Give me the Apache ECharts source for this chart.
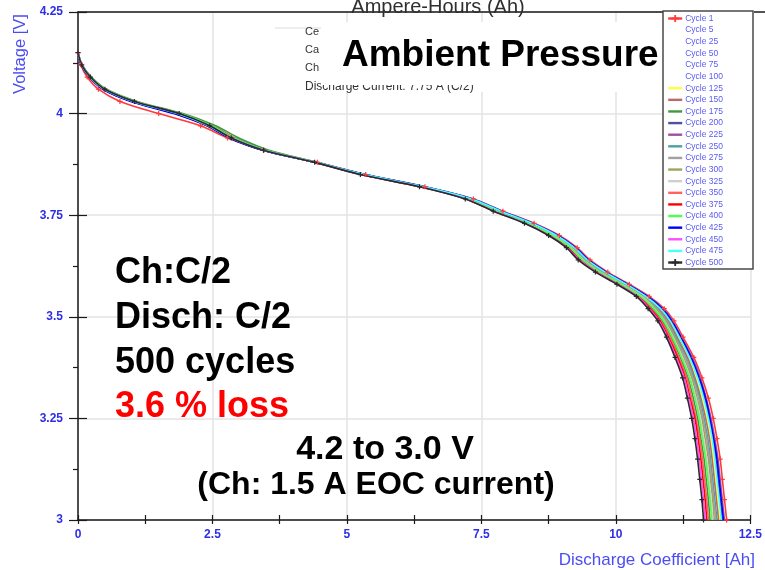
<!DOCTYPE html>
<html>
<head>
<meta charset="utf-8">
<script src="https://cdn.jsdelivr.net/npm/echarts@6/dist/echarts.min.js"></script>
<style>
  html, body { margin: 0; padding: 0; background: #ffffff; }
  #chart { width: 765px; height: 570px; }
</style>
</head>
<body>
<div id="chart"></div>
<script>
// Discharge curves, cell voltage [V] against discharged capacity [Ah].
// Every curve is sampled at the same voltage levels; each cycle list holds
// the capacity reached at those levels.
const voltage = [4.15, 4.12, 4.09, 4.06, 4.03, 4.00, 3.97, 3.94, 3.91, 3.88,
  3.85, 3.82, 3.79, 3.76, 3.73, 3.70, 3.67, 3.64, 3.61, 3.58, 3.55, 3.52, 3.49,
  3.45, 3.40, 3.35, 3.30, 3.25, 3.20, 3.15, 3.10, 3.05, 3.00];

const ahCycle1   = [0.00,0.05,0.17,0.38,0.78,1.50,2.28,2.78,3.45,4.45, 5.35,6.45,7.35,7.90,8.48,8.95,9.28,9.52,9.85,10.25,10.62,10.90,11.08, 11.25,11.45,11.60,11.72,11.81,11.88,11.94,11.98,12.02,12.06];
const ahCycle125 = [0.00,0.07,0.23,0.50,1.05,1.88,2.46,2.87,3.47,4.42, 5.32,6.42,7.31,7.85,8.43,8.89,9.22,9.45,9.78,10.18,10.55,10.81,10.99, 11.16,11.35,11.49,11.60,11.69,11.76,11.81,11.85,11.89,11.93];
const ahCycle150 = [0.00,0.07,0.24,0.51,1.07,1.90,2.50,2.92,3.50,4.43, 5.32,6.42,7.30,7.84,8.42,8.88,9.21,9.44,9.77,10.17,10.54,10.80,10.98, 11.14,11.33,11.47,11.58,11.67,11.74,11.79,11.83,11.87,11.91];
const ahCycle175 = [0.00,0.08,0.25,0.53,1.10,1.95,2.56,2.99,3.55,4.45, 5.28,6.38,7.24,7.80,8.40,8.90,9.24,9.44,9.73,10.10,10.45,10.68,10.86, 11.03,11.20,11.34,11.44,11.52,11.58,11.64,11.68,11.72,11.75];
const ahCycle200 = [0.00,0.07,0.22,0.48,1.02,1.84,2.42,2.83,3.44,4.41, 5.33,6.43,7.32,7.87,8.45,8.91,9.24,9.48,9.81,10.21,10.57,10.84,11.02, 11.19,11.38,11.53,11.65,11.73,11.80,11.86,11.90,11.94,11.98];
const ahCycle225 = [0.00,0.07,0.22,0.48,1.02,1.84,2.43,2.84,3.45,4.42, 5.34,6.44,7.34,7.88,8.46,8.93,9.26,9.50,9.83,10.23,10.60,10.87,11.05, 11.22,11.42,11.57,11.68,11.77,11.84,11.90,11.94,11.98,12.02];
const ahCycle250 = [0.00,0.07,0.23,0.50,1.05,1.88,2.47,2.87,3.47,4.42, 5.31,6.41,7.29,7.82,8.40,8.87,9.20,9.43,9.75,10.15,10.52,10.77,10.95, 11.12,11.30,11.45,11.56,11.64,11.71,11.76,11.80,11.84,11.88];
const ahCycle275 = [0.00,0.07,0.23,0.50,1.05,1.88,2.46,2.86,3.47,4.42, 5.30,6.40,7.28,7.82,8.40,8.86,9.19,9.42,9.74,10.14,10.51,10.76,10.94, 11.10,11.29,11.43,11.54,11.62,11.69,11.74,11.78,11.82,11.86];
const ahCycle300 = [0.00,0.07,0.23,0.50,1.06,1.89,2.48,2.88,3.48,4.42, 5.30,6.40,7.27,7.80,8.38,8.84,9.17,9.40,9.73,10.13,10.49,10.74,10.92, 11.09,11.26,11.41,11.51,11.60,11.66,11.72,11.76,11.80,11.83];
const ahCycle325 = [0.00,0.07,0.23,0.50,1.05,1.88,2.46,2.86,3.46,4.41, 5.29,6.39,7.26,7.79,8.37,8.83,9.16,9.39,9.71,10.11,10.48,10.72,10.90, 11.06,11.24,11.38,11.49,11.57,11.63,11.69,11.73,11.77,11.80];
const ahCycle350 = [0.00,0.06,0.21,0.48,1.01,1.82,2.42,2.84,3.45,4.41, 5.27,6.37,7.23,7.76,8.34,8.79,9.12,9.35,9.67,10.07,10.43,10.66,10.84, 11.01,11.17,11.32,11.41,11.49,11.56,11.61,11.65,11.69,11.72];
const ahCycle375 = [0.00,0.06,0.21,0.47,1.00,1.80,2.40,2.83,3.45,4.41, 5.26,6.36,7.22,7.75,8.33,8.78,9.11,9.33,9.65,10.05,10.41,10.64,10.82, 10.98,11.15,11.29,11.38,11.47,11.53,11.58,11.62,11.66,11.69];
const ahCycle400 = [0.00,0.07,0.23,0.51,1.06,1.90,2.48,2.89,3.48,4.42, 5.29,6.39,7.25,7.78,8.36,8.82,9.15,9.38,9.70,10.10,10.46,10.71,10.89, 11.05,11.22,11.37,11.47,11.55,11.61,11.67,11.71,11.75,11.78];
const ahCycle425 = [0.00,0.06,0.21,0.46,0.98,1.78,2.40,2.81,3.43,4.41, 5.34,6.44,7.33,7.87,8.45,8.92,9.25,9.49,9.82,10.22,10.59,10.86,11.04, 11.21,11.40,11.55,11.67,11.75,11.82,11.88,11.92,11.96,12.00];
const ahCycle450 = [0.00,0.07,0.22,0.49,1.04,1.86,2.44,2.85,3.46,4.41, 5.26,6.36,7.21,7.73,8.31,8.76,9.09,9.32,9.64,10.04,10.40,10.62,10.80, 10.96,11.12,11.27,11.36,11.44,11.50,11.55,11.59,11.63,11.66];
const ahCycle475 = [0.00,0.07,0.22,0.49,1.03,1.85,2.43,2.85,3.46,4.42, 5.33,6.43,7.32,7.86,8.44,8.90,9.23,9.47,9.80,10.20,10.56,10.83,11.01, 11.18,11.37,11.52,11.63,11.72,11.79,11.84,11.88,11.92,11.96];
const ahCycle500 = [0.00,0.07,0.23,0.50,1.05,1.88,2.45,2.85,3.45,4.40, 5.25,6.35,7.20,7.72,8.30,8.75,9.08,9.30,9.62,10.02,10.38,10.60,10.78, 10.94,11.10,11.24,11.33,11.41,11.47,11.52,11.56,11.60,11.63];

// Legend entries in order; cycles 5-100 carry no recorded curve.
const cycleNames = ['Cycle 1','Cycle 5','Cycle 25','Cycle 50','Cycle 75','Cycle 100',
  'Cycle 125','Cycle 150','Cycle 175','Cycle 200','Cycle 225','Cycle 250','Cycle 275',
  'Cycle 300','Cycle 325','Cycle 350','Cycle 375','Cycle 400','Cycle 425','Cycle 450',
  'Cycle 475','Cycle 500'];
const cycleCapacity = {
  'Cycle 1': ahCycle1, 'Cycle 5': [], 'Cycle 25': [], 'Cycle 50': [], 'Cycle 75': [],
  'Cycle 100': [], 'Cycle 125': ahCycle125, 'Cycle 150': ahCycle150, 'Cycle 175': ahCycle175,
  'Cycle 200': ahCycle200, 'Cycle 225': ahCycle225, 'Cycle 250': ahCycle250,
  'Cycle 275': ahCycle275, 'Cycle 300': ahCycle300, 'Cycle 325': ahCycle325,
  'Cycle 350': ahCycle350, 'Cycle 375': ahCycle375, 'Cycle 400': ahCycle400,
  'Cycle 425': ahCycle425, 'Cycle 450': ahCycle450, 'Cycle 475': ahCycle475,
  'Cycle 500': ahCycle500
};

const xTicks = { min: 0, max: 12.5, step: 2.5 };
const yTicks = { min: 3, max: 4.25, step: 0.25 };

// Line colours per cycle
const cycleColor = {
  'Cycle 1': '#ff3b3b', 'Cycle 5': '#ffffff', 'Cycle 25': '#ffffff', 'Cycle 50': '#ffffff',
  'Cycle 75': '#ffffff', 'Cycle 100': '#ffffff', 'Cycle 125': '#ffff40',
  'Cycle 150': '#b86a6a', 'Cycle 175': '#3f9a3f', 'Cycle 200': '#50509e',
  'Cycle 225': '#a04ea0', 'Cycle 250': '#4ea0a0', 'Cycle 275': '#a0a0a0',
  'Cycle 300': '#a3a35e', 'Cycle 325': '#cfcfcf', 'Cycle 350': '#ff6262',
  'Cycle 375': '#ff0000', 'Cycle 400': '#4cff4c', 'Cycle 425': '#0000ff',
  'Cycle 450': '#ff4cff', 'Cycle 475': '#4cffff', 'Cycle 500': '#2a2a2a'
};
const markedCycles = ['Cycle 1', 'Cycle 500'];
const plusMark = 'path://M3,0H5V3H8V5H5V8H3V5H0V3H3Z';

const series = cycleNames.map(name => {
  const ah = cycleCapacity[name];
  const marked = markedCycles.includes(name);
  return {
    type: 'line',
    name: name,
    xAxisIndex: 0,
    yAxisIndex: 0,
    data: ah.map((a, i) => [a, voltage[i]]),
    smooth: 0.3,
    symbol: marked ? plusMark : 'none',
    symbolSize: 5,
    showSymbol: marked,
    lineStyle: { width: 1.6, color: cycleColor[name] },
    itemStyle: { color: cycleColor[name] },
    emphasis: { disabled: true },
    z: 3
  };
});

// Legend rows: plain line swatch, plus marker only where the curve has one
const legendData = cycleNames.map(name => markedCycles.includes(name)
  ? { name: name }
  : { name: name, itemStyle: { opacity: 0, color: 'rgba(0,0,0,0)', borderColor: 'rgba(0,0,0,0)' } });

const font = '"Liberation Sans", Arial, sans-serif';
const blueLabel = { color: '#2e2ee6', fontWeight: 'bold', fontSize: 12, fontFamily: font };
const black = '#1a1a1a';

const chart = echarts.init(document.getElementById('chart'), null, { renderer: 'canvas' });
chart.setOption({
  animation: false,
  backgroundColor: '#ffffff',
  grid: { left: 78, right: 10, top: 12, bottom: 50, containLabel: false },
  xAxis: [
    {
      type: 'value', position: 'bottom', min: xTicks.min, max: xTicks.max, interval: xTicks.step,
      axisLine: { show: true, lineStyle: { color: black, width: 1.5 } },
      axisTick: { show: true, length: 4, lineStyle: { color: black, width: 1.2 } },
      minorTick: { show: true, splitNumber: 2, length: 4, lineStyle: { color: black, width: 1.2 } },
      axisLabel: Object.assign({ margin: 9 }, blueLabel),
      splitLine: { show: true, lineStyle: { color: '#e3e3e3', width: 1.5 } }
    },
    {
      type: 'value', position: 'bottom', min: xTicks.min, max: xTicks.max, interval: xTicks.step,
      axisLine: { show: false },
      axisTick: { show: true, inside: true, length: 5, lineStyle: { color: black, width: 1.2 } },
      minorTick: { show: true, splitNumber: 2, length: 5, lineStyle: { color: black, width: 1.2 } },
      axisLabel: { show: false },
      splitLine: { show: false }
    },
    {
      type: 'value', position: 'top', min: xTicks.min, max: xTicks.max, interval: xTicks.step,
      axisLine: { show: true, lineStyle: { color: black, width: 1.5 } },
      axisTick: { show: false }, axisLabel: { show: false }, splitLine: { show: false }
    }
  ],
  yAxis: [
    {
      type: 'value', position: 'left', min: yTicks.min, max: yTicks.max, interval: yTicks.step,
      axisLine: { show: true, lineStyle: { color: black, width: 1.5 } },
      axisTick: { show: true, length: 9, lineStyle: { color: black, width: 1.2 } },
      minorTick: { show: true, splitNumber: 2, length: 5, lineStyle: { color: black, width: 1.2 } },
      axisLabel: Object.assign({ margin: 15 }, blueLabel),
      splitLine: { show: true, lineStyle: { color: '#e3e3e3', width: 1.5 } }
    },
    {
      type: 'value', position: 'left', min: yTicks.min, max: yTicks.max, interval: yTicks.step,
      axisLine: { show: false },
      axisTick: { show: true, inside: true, length: 9, lineStyle: { color: black, width: 1.2 } },
      axisLabel: { show: false }, splitLine: { show: false }
    }
  ],
  legend: {
    data: legendData,
    orient: 'vertical',
    left: 663, top: 11,
    padding: [3, 30, 2, 4],
    itemWidth: 14, itemHeight: 9, itemGap: 2.62,
    lineStyle: { width: 2.4 },
    backgroundColor: '#ffffff',
    borderColor: '#4a4a4a', borderWidth: 1.5,
    textStyle: { color: '#5a5af2', fontSize: 8.5, lineHeight: 9, fontFamily: font, padding: [0, 0, 0, -2] },
    selectedMode: false,
    z: 20
  },
  graphic: [
    // Secondary axis caption along the top edge
    { type: 'text', z: 5, style: { x: 438, y: 7, text: 'Ampere-Hours (Ah)', fill: '#2f2f2f',
      font: '20px ' + font, textAlign: 'center', textVerticalAlign: 'middle' } },
    { type: 'line', z: 5, shape: { x1: 754, y1: 12, x2: 765, y2: 12 },
      style: { stroke: black, lineWidth: 1.5 } },
    // Test-condition box
    { type: 'rect', z: 6, shape: { x: 275, y: 28, width: 388, height: 64 },
      style: { fill: '#ffffff', stroke: null } },
    { type: 'line', z: 6, shape: { x1: 275, y1: 28, x2: 663, y2: 28 },
      style: { stroke: '#dcdcdc', lineWidth: 1 } },
    { type: 'text', z: 7, style: { x: 305, y: 32, text: 'Ce', fill: '#333', font: '11px ' + font, textVerticalAlign: 'middle' } },
    { type: 'text', z: 7, style: { x: 305, y: 50, text: 'Ca', fill: '#333', font: '11px ' + font, textVerticalAlign: 'middle' } },
    { type: 'text', z: 7, style: { x: 305, y: 68, text: 'Ch', fill: '#333', font: '11px ' + font, textVerticalAlign: 'middle' } },
    { type: 'text', z: 7, style: { x: 305, y: 87, text: 'Discharge Current: 7.75 A (C/2)', fill: '#333', font: '12px ' + font, textVerticalAlign: 'middle' } },
    { type: 'rect', z: 8, shape: { x: 321, y: 22, width: 341, height: 63 },
      style: { fill: '#ffffff', stroke: null } },
    { type: 'text', z: 9, style: { x: 342, y: 56, text: 'Ambient Pressure', fill: '#000',
      font: 'bold 37px ' + font, textVerticalAlign: 'middle' } },
    // Axis titles
    { type: 'text', z: 9, rotation: Math.PI / 2, x: 20, y: 54, style: { x: 0, y: 0, text: 'Voltage [V]',
      fill: '#4c4cf5', font: '16.5px ' + font, textAlign: 'center', textVerticalAlign: 'middle' } },
    { type: 'text', z: 9, style: { x: 755, y: 560, text: 'Discharge Coefficient [Ah]',
      fill: '#4c4cf5', font: '17px ' + font, textAlign: 'right', textVerticalAlign: 'middle' } },
    // Test summary
    { type: 'text', z: 9, style: { x: 115, y: 273, text: 'Ch:C/2', fill: '#000', font: 'bold 36px ' + font, textVerticalAlign: 'middle' } },
    { type: 'text', z: 9, style: { x: 115, y: 318, text: 'Disch: C/2', fill: '#000', font: 'bold 36px ' + font, textVerticalAlign: 'middle' } },
    { type: 'text', z: 9, style: { x: 115, y: 363, text: '500 cycles', fill: '#000', font: 'bold 36px ' + font, textVerticalAlign: 'middle' } },
    { type: 'text', z: 9, style: { x: 115, y: 407, text: '3.6 % loss', fill: '#ff0000', font: 'bold 36px ' + font, textVerticalAlign: 'middle' } },
    { type: 'text', z: 9, style: { x: 385, y: 450, text: '4.2 to 3.0 V', fill: '#000', font: 'bold 34px ' + font, textAlign: 'center', textVerticalAlign: 'middle' } },
    { type: 'text', z: 9, style: { x: 376, y: 485, text: '(Ch: 1.5 A EOC current)', fill: '#000', font: 'bold 32px ' + font, textAlign: 'center', textVerticalAlign: 'middle' } }
  ],
  series: series
});
</script>
</body>
</html>
